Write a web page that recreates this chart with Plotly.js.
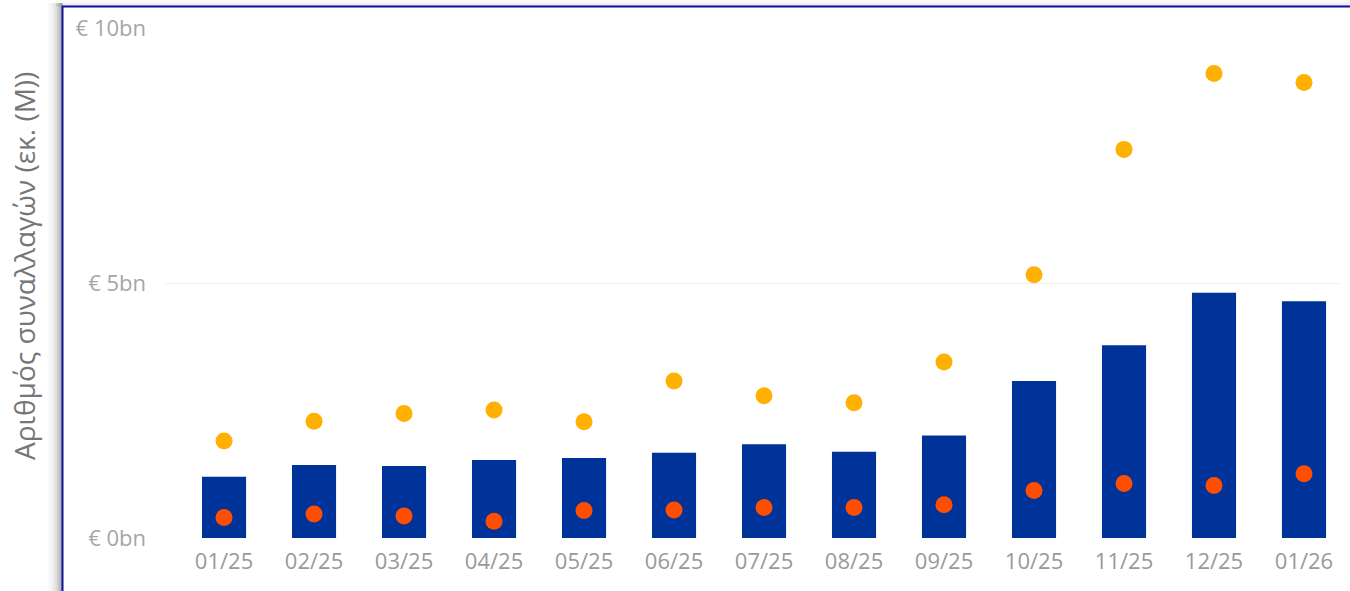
<!DOCTYPE html>
<html>
<head>
<meta charset="utf-8">
<script src="https://cdn.plot.ly/plotly-3.0.1.min.js"></script>
<style>
  html, body { margin: 0; padding: 0; background: #ffffff; }
  #chart { width: 1350px; height: 591px; }
</style>
</head>
<body>
<div id="chart"></div>
<script>
// Data (values in € bn)
const categories = ['01/25','02/25','03/25','04/25','05/25','06/25','07/25','08/25','09/25','10/25','11/25','12/25','01/26'];
const barValues = [1.20, 1.43, 1.41, 1.53, 1.57, 1.67, 1.84, 1.69, 2.01, 3.08, 3.78, 4.81, 4.64];
const yellowValues = [1.90, 2.29, 2.44, 2.51, 2.28, 3.08, 2.79, 2.65, 3.45, 5.16, 7.62, 9.11, 8.93];
const orangeValues = [0.40, 0.47, 0.43, 0.33, 0.54, 0.55, 0.60, 0.60, 0.65, 0.93, 1.07, 1.03, 1.26];
const yTickVals = [0, 5, 10];
const yTickText = ['€ 0bn', '€ 5bn', '€ 10bn'];
const yTitle = 'Αριθμός συναλλαγών (εκ. (M))';

const W = 1350, H = 591;
const M = {l: 165, r: 10, t: 28, b: 53};
const plotW = W - M.l - M.r, plotH = H - M.t - M.b;
const px2x = p => (p - M.l) / plotW;
const px2y = p => (H - M.b - p) / plotH;

const traces = [
  {
    type: 'bar', x: categories, y: barValues,
    marker: {color: '#003399'}, width: 0.49,
    hoverinfo: 'x+y', showlegend: false
  },
  {
    type: 'scatter', mode: 'markers', x: categories, y: yellowValues,
    marker: {color: '#FFB000', size: 17}, showlegend: false
  },
  {
    type: 'scatter', mode: 'markers', x: categories, y: orangeValues,
    marker: {color: '#FF4E00', size: 17}, showlegend: false
  }
];

const shadowShapes = [];
// left shadow of the frame (gradient towards the border)
[[48, 0.025], [51, 0.035], [54, 0.05], [56.5, 0.07], [58.5, 0.09], [60.5, 0.11]].forEach(([x0, op]) => {
  shadowShapes.push({type: 'rect', xref: 'paper', yref: 'paper', layer: 'below',
    x0: px2x(x0), x1: px2x(62.5), y0: px2y(H + 20), y1: px2y(3),
    line: {width: 0}, fillcolor: 'rgba(0,0,0,' + op + ')'});
});
// top shadow of the frame
[[0, 0.02], [2.5, 0.03], [4.5, 0.04]].forEach(([y0, op]) => {
  shadowShapes.push({type: 'rect', xref: 'paper', yref: 'paper', layer: 'below',
    x0: px2x(56), x1: px2x(W + 20), y0: px2y(6.5), y1: px2y(y0),
    line: {width: 0}, fillcolor: 'rgba(0,0,0,' + op + ')'});
});

const layout = {
  width: W, height: H,
  margin: M,
  paper_bgcolor: '#ffffff', plot_bgcolor: '#ffffff',
  font: {family: 'Open Sans, Noto Sans, sans-serif', color: '#9a9a9a'},
  showlegend: false,
  xaxis: {
    type: 'category',
    range: [-0.656, 12.4],
    showgrid: false, zeroline: false, showline: false,
    ticks: '',
    tickfont: {size: 22, color: '#999999'},
    ticklabelstandoff: 8,
    fixedrange: true
  },
  yaxis: {
    range: [0, 10],
    tickvals: yTickVals, ticktext: yTickText,
    showgrid: true, gridcolor: '#efefef', gridwidth: 1,
    zeroline: false, showline: false,
    ticks: '',
    tickfont: {size: 22, color: '#a6a6a6'},
    ticklabelstandoff: 18,
    fixedrange: true
  },
  annotations: [{
    text: yTitle, xref: 'paper', yref: 'paper',
    x: px2x(24), y: px2y(266), xanchor: 'center', yanchor: 'middle',
    textangle: -90, showarrow: false,
    font: {size: 28, color: '#767676', family: 'Open Sans, Noto Sans, sans-serif'}
  }],
  shapes: shadowShapes.concat([{
    type: 'rect', xref: 'paper', yref: 'paper', layer: 'above',
    x0: px2x(62.5), x1: px2x(W + 20), y0: px2y(H + 20), y1: px2y(6.5),
    line: {color: '#10109c', width: 2}, fillcolor: 'rgba(0,0,0,0)'
  }])
};

Plotly.newPlot('chart', traces, layout, {displayModeBar: false, staticPlot: true});
</script>
</body>
</html>
